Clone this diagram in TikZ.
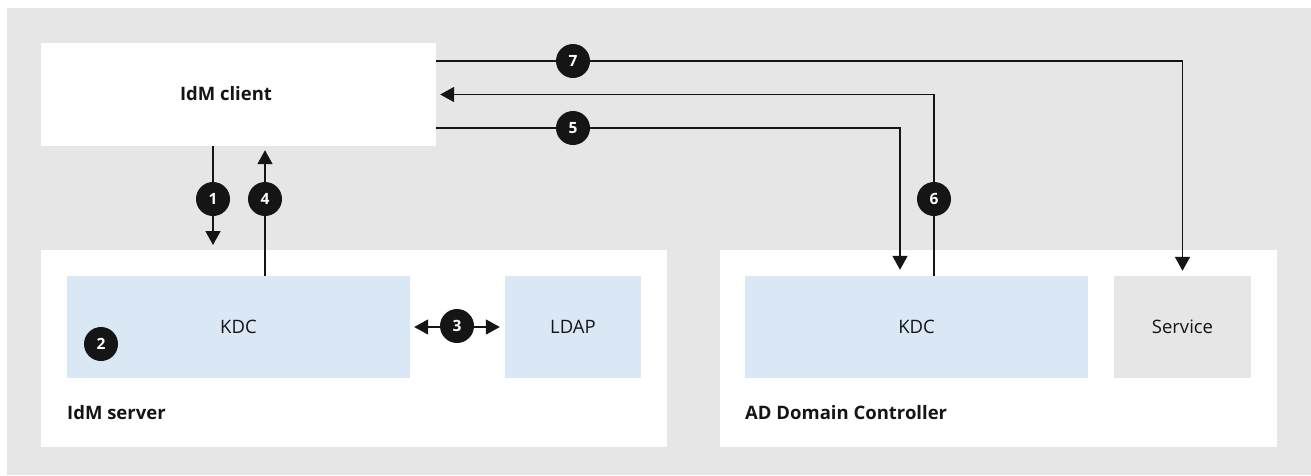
\documentclass[tikz,border=0pt]{standalone}
\usepackage{fontspec}
\setmainfont{Open Sans}
\usetikzlibrary{arrows.meta,calc}
\definecolor{bggray}{HTML}{E6E6E6}
\definecolor{lblue}{HTML}{DAE7F5}
\definecolor{ink}{HTML}{151515}
\tikzset{
  inner/.style={fill=lblue, inner sep=0pt, font=\fontsize{18.5}{22}\selectfont, text=ink},
  num/.style={circle, fill=ink, minimum size=34pt, inner sep=0pt, text=white, font=\bfseries\fontsize{15.5}{18}\selectfont},
  arr/.style={draw=ink, line width=1.6pt, -{Triangle[width=15pt,length=14pt]}},
  darr/.style={draw=ink, line width=1.6pt, {Triangle[width=15pt,length=14pt]}-{Triangle[width=15pt,length=14pt]}},
  lbl/.style={font=\bfseries\fontsize{18.5}{22}\selectfont, text=ink, inner sep=0pt}
}
\begin{document}
\begin{tikzpicture}[x=1pt,y=-1pt]
\useasboundingbox (0,0) rectangle (1311,475);
\fill[white] (0,0) rectangle (1311,475);
\fill[bggray] (7,8) rectangle (1311,475);
% boxes
\node[fill=white, minimum width=395pt, minimum height=103pt, inner sep=0pt] (client) at (238.5,94.5) {};
\node[lbl] (clientlbl) at (226,94) {IdM client};
\node[fill=white, minimum width=626pt, minimum height=197pt, inner sep=0pt] (srv) at (354,348.5) {};
\node[fill=white, minimum width=557pt, minimum height=197pt, inner sep=0pt] (ad) at (998.5,348.5) {};
\node[lbl, anchor=west] (srvlbl) at (67,413) {IdM server};
\node[lbl, anchor=west] (adlbl) at (745,413) {AD Domain Controller};
\node[inner, minimum width=343pt, minimum height=102pt] (kdcA) at (238.5,327) {KDC};
\node[inner, minimum width=136pt, minimum height=102pt] (ldap) at (573,327) {LDAP};
\node[inner, minimum width=343pt, minimum height=102pt] (kdcB) at (916.5,327) {KDC};
\node[inner, fill=bggray, minimum width=137pt, minimum height=102pt] (service) at (1182.5,327) {Service};
% coordinates
\coordinate (e1) at (213,245);
\coordinate (y7) at (0,61);
\coordinate (y5) at (0,128);
\coordinate (x4) at (265,0);
\coordinate (x5) at (900,0);
\coordinate (x6) at (934,0);
% connectors
\draw[arr] (client.south -| e1) -- (e1);
\draw[arr, shorten >=4pt] (kdcA.north -| x4) -- (client.south -| x4);
\draw[darr, shorten <=4pt, shorten >=5pt] (kdcA.east) -- (ldap.west);
\draw[arr, shorten >=5pt] (client.east |- y7) -| (service.north);
\draw[arr, shorten >=6pt] (client.east |- y5) -| (kdcB.north -| x5);
\draw[arr, shorten >=4pt] (kdcB.north -| x6) |- (client.east);
% numbers
\node[num] (n1) at (213,199) {1};
\node[num] (n2) at (101,344) {2};
\node[num] (n3) at (457,326) {3};
\node[num] (n4) at (265,199) {4};
\node[num] (n5) at (573,128) {5};
\node[num] (n6) at (934,199) {6};
\node[num] (n7) at (573,61) {7};
\end{tikzpicture}
\end{document}
